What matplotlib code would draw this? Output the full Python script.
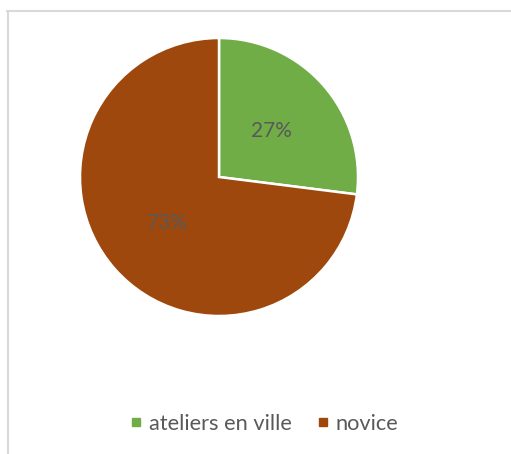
import matplotlib.pyplot as plt
from matplotlib.lines import Line2D

labels = ["ateliers en ville", "novice"]
values = [27, 73]
colors = ["#70AD47", "#9E480E"]

W, H = 511, 454
fig = plt.figure(figsize=(W / 100, H / 100), dpi=100)
fig.patch.set_facecolor("white")

# chart border (top and left visible)
fig.add_artist(Line2D([7 / W, 1], [1 - 10.5 / H, 1 - 10.5 / H], color="#D9D9D9", lw=1.5))
fig.add_artist(Line2D([7.5 / W, 7.5 / W], [0, 1 - 10.5 / H], color="#D9D9D9", lw=1.5))

cx, cy, r = 219, 177, 139
ax = fig.add_axes([(cx - r) / W, (H - cy - r) / H, 2 * r / W, 2 * r / H])
wedges, texts, autotexts = ax.pie(
    values, colors=colors, startangle=90, counterclock=False,
    autopct="%d%%", pctdistance=0.5,
    wedgeprops=dict(edgecolor="white", linewidth=1.8),
    textprops=dict(color="#595959", fontsize=15, family="Lato"),
    radius=1,
)
ax.set_xlim(-1, 1)
ax.set_ylim(-1, 1)
ax.set_aspect("equal")
ax.axis("off")

handles = [Line2D([], [], marker="s", linestyle="", markersize=6,
                  markerfacecolor=c, markeredgecolor=c) for c in colors]
leg = fig.legend(handles, labels, loc="center", bbox_to_anchor=(264 / W, 1 - 424 / H),
                 ncol=2, frameon=False, handlelength=0.6, handletextpad=0.3,
                 columnspacing=1.1, prop=dict(family="Lato", size=15.7))
for t in leg.get_texts():
    t.set_color("#595959")

fig.savefig("out.png", dpi=100)
